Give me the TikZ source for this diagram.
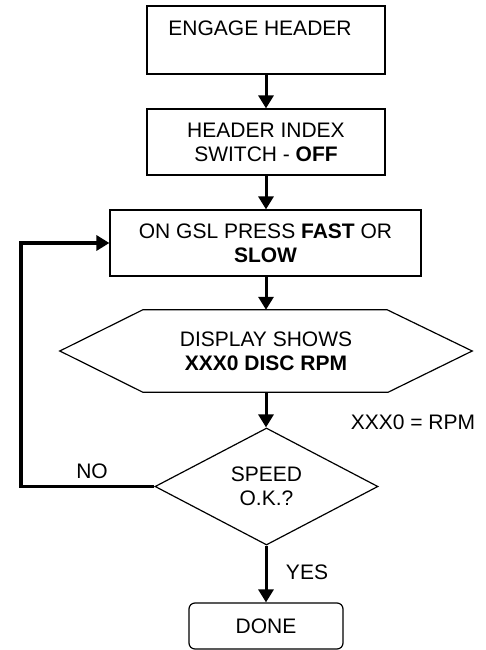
\documentclass[tikz,border=0pt]{standalone}
\usepackage{fontspec}
\setmainfont{Liberation Sans}
\usetikzlibrary{arrows.meta,shapes.geometric}
\begin{document}
\begin{tikzpicture}[x=1pt,y=-1pt,
  every node/.style={font=\fontsize{21}{24}\selectfont, align=center},
  box/.style={draw, line width=1.2pt, rectangle, inner sep=0pt},
  flow/.style={line width=3pt, -{Triangle[width=15pt,length=13pt]}},
  loopline/.style={line width=3.5pt, -{Triangle[width=15pt,length=13pt]}},
  lbl/.style={inner sep=0pt}]
\useasboundingbox (0,0) rectangle (485,650);
\node[box, minimum width=238pt, minimum height=68pt] (b1) at (266,40) {ENGAGE HEADER\hspace*{12pt}\\\mbox{}};
\node[box, minimum width=238pt, minimum height=66pt] (b2) at (266,142) {HEADER INDEX\\SWITCH - \textbf{OFF}};
\node[box, minimum width=311pt, minimum height=66pt] (b3) at (265.5,243) {ON GSL PRESS \textbf{FAST} OR\\\textbf{SLOW}};
\node[inner sep=0pt, minimum width=412pt, minimum height=82pt] (hex) at (266,351) {DISPLAY SHOWS\\\textbf{XXX0 DISC RPM}};
\draw[line width=1.2pt] (hex.north west) ++(83,0) coordinate (h1)
  -- ([xshift=-85pt]hex.north east) -- (hex.east) -- ([xshift=-84pt]hex.south east)
  -- ([xshift=83pt]hex.south west) -- (hex.west) -- cycle;
\node[draw, diamond, line width=1.2pt, inner sep=0pt, minimum width=223pt, minimum height=117pt] (dia) at (266.5,486.5) {SPEED\\O.K.?};
\node[box, rounded corners=6pt, minimum width=154pt, minimum height=46pt] (done) at (266,626) {DONE};
\node[lbl] (rpm) at (413,422) {XXX0 = RPM};
\node[lbl] (no) at (92,471) {NO};
\node[lbl] (yes) at (307,572) {YES};
\draw[flow] (b1.south -| 266,0) -- (b2.north -| 266,0);
\draw[flow] (b2.south -| 266,0) -- (b3.north -| 266,0);
\draw[flow] (b3.south -| 266,0) -- (hex.north -| 266,0);
\draw[flow] (hex.south -| 266,0) -- (dia.north -| 266,0);
\draw[flow] (dia.south -| 266,0) -- (done.north -| 266,0);
\draw[loopline] (dia.west) -| (21,330) |- (b3.west);
\end{tikzpicture}
\end{document}
